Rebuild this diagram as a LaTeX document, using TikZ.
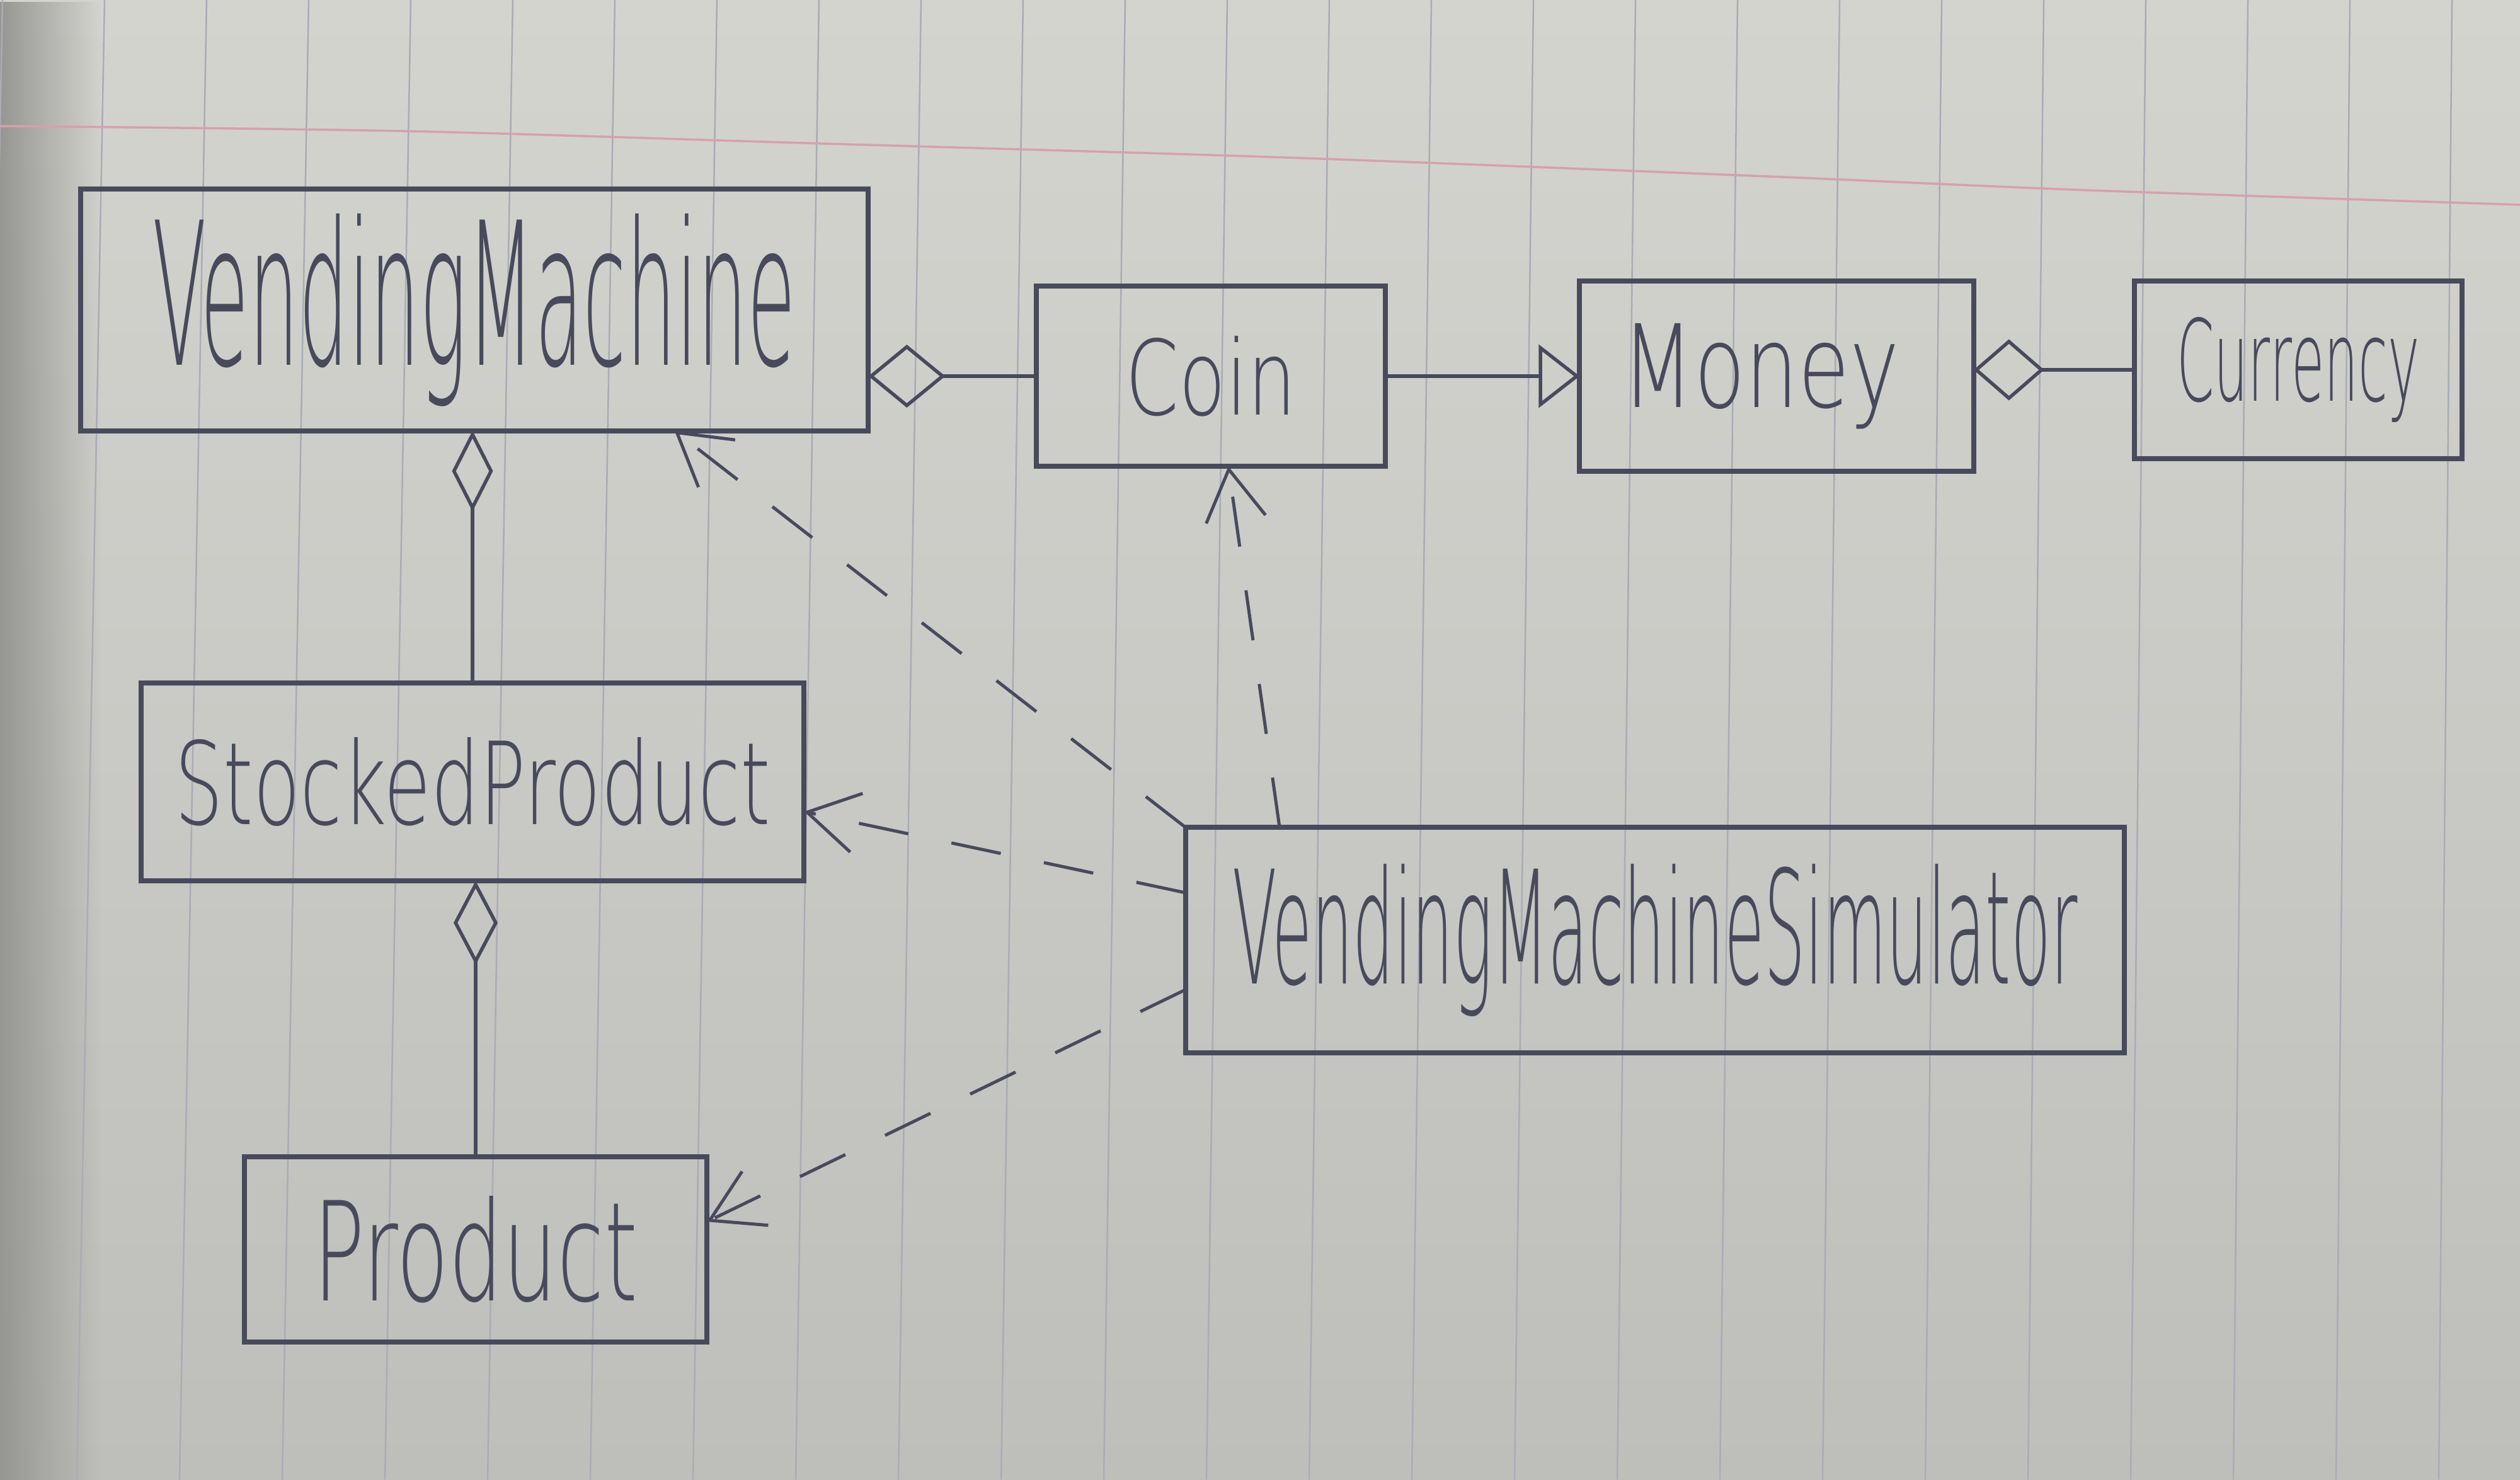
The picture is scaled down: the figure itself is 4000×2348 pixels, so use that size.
\documentclass[tikz,border=0pt]{standalone}
\usepackage{fontspec}
\usepackage{graphicx}
\newfontfamily\hand{DejaVu Sans ExtraLight}
\usetikzlibrary{arrows.meta,calc,fadings}
\definecolor{paperlight}{RGB}{212,212,207}
\definecolor{paperdark}{RGB}{190,190,187}
\definecolor{edgedark}{RGB}{150,150,147}
\definecolor{rulecol}{RGB}{170,172,182}
\definecolor{margincol}{RGB}{214,160,172}
\definecolor{ink}{RGB}{72,74,92}
\tikzfading[name=fadeR, left color=transparent!0, right color=transparent!100]
\begin{document}
\begin{tikzpicture}[x=0.01cm,y=-0.01cm,
  box/.style={draw=ink, line width=0.08cm, rectangle, inner sep=0pt, outer sep=0pt, text=ink},
  conn/.style={draw=ink, line width=0.055cm},
  dep/.style={draw=ink, line width=0.05cm, dash pattern=on 0.8cm off 0.7cm,
    -{Straight Barb[length=0.8cm, width=0.95cm, line width=0.05cm]}},
  gen/.style={conn, -{Triangle[open, length=0.65cm, width=1.0cm]}}]
% paper
\useasboundingbox (0,0) rectangle (4000,2348);
\shade[top color=paperlight, bottom color=paperdark] (0,0) rectangle (4000,2348);
\fill[edgedark, path fading=fadeR] (0,0) rectangle (160,2348);
\foreach \k in {-1,...,24}
  \draw[rulecol, line width=0.025cm] ({166+162*\k},0) -- ({122+163*\k},2348);
\draw[margincol, line width=0.035cm] plot[smooth] coordinates
  {(0,200) (638,208) (1276,227) (2041,250) (2806,280) (3316,302) (4000,325)};
% classes
\node[box, minimum width=12.5cm, minimum height=3.83cm] (vm) at (753,492)
  {\resizebox{10.2cm}{2.4cm}{\hand VendingMachine}};
\node[box, minimum width=5.54cm, minimum height=2.86cm] (coin) at (1922,597)
  {\resizebox{2.7cm}{1.25cm}{\hand Coin}};
\node[box, minimum width=6.25cm, minimum height=3.01cm] (money) at (2820,597)
  {\hspace*{-0.5cm}\resizebox{4.4cm}{1.33cm}{\hand Money}};
\node[box, minimum width=5.2cm, minimum height=2.81cm] (cur) at (3648,587)
  {\resizebox{3.85cm}{1.33cm}{\hand Currency}};
\node[box, minimum width=10.52cm, minimum height=3.14cm] (sp) at (750,1241)
  {\resizebox{9.45cm}{1.38cm}{\hand StockedProduct}};
\node[box, minimum width=14.89cm, minimum height=3.57cm] (sim) at (2627,1492)
  {\resizebox{13.4cm}{1.9cm}{\hand VendingMachineSimulator}};
\node[box, minimum width=7.34cm, minimum height=2.93cm] (prod) at (755,1983)
  {\resizebox{5.15cm}{1.66cm}{\hand Product}};
% aggregations
\draw[conn, -{Diamond[open, length=1.22cm, width=1.0cm]}] (coin.west) -- (coin.west -| vm.east);
\draw[conn, -{Diamond[open, length=1.12cm, width=0.97cm]}] (cur.west) -- (cur.west -| money.east);
\draw[conn, -{Diamond[open, length=1.28cm, width=0.65cm]}] (sp.north) -- (sp.north |- vm.south);
\draw[conn, -{Diamond[open, length=1.33cm, width=0.7cm]}] (prod.north) -- (prod.north |- sp.south);
% generalization
\draw[gen] (coin.east) -- (coin.east -| money.west);
% dependencies
\draw[dep] (sim.north west) -- ($(vm.south west)!0.754!(vm.south east)$);
\draw[dep] ($(sim.north west)!0.29!(sim.south west)$) -- ($(sp.south east)!0.35!(sp.north east)$);
\draw[dep] ($(sim.north west)!0.1!(sim.north east)$) -- ($(coin.south west)!0.55!(coin.south east)$);
\draw[dep] ($(sim.north west)!0.72!(sim.south west)$) -- ($(prod.north east)!0.35!(prod.south east)$);
\end{tikzpicture}
\end{document}
